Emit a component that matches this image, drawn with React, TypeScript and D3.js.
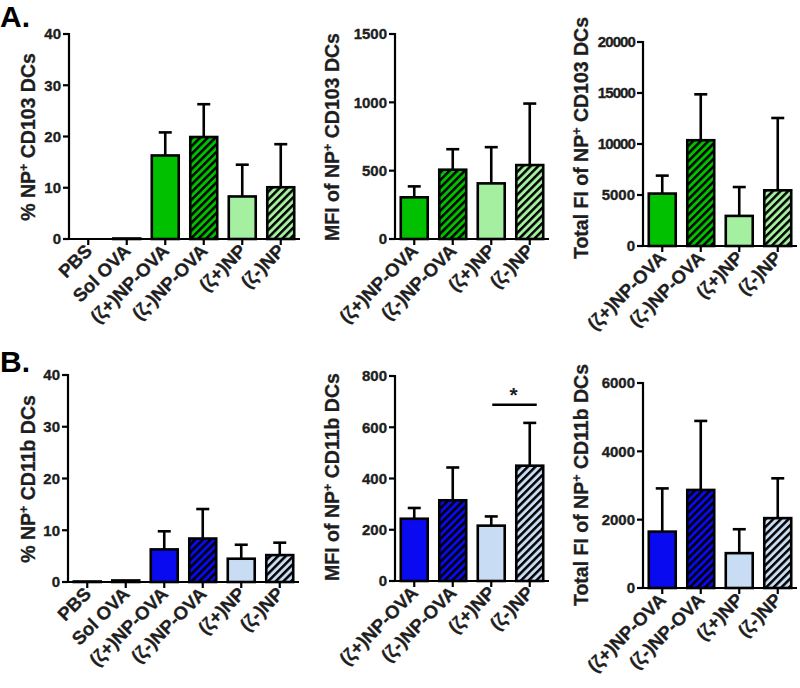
import React from "react";
import * as d3 from "d3";

const catsAll = ["PBS", "Sol OVA", "(ζ+)NP-OVA", "(ζ-)NP-OVA", "(ζ+)NP", "(ζ-)NP"];
const cats4 = ["(ζ+)NP-OVA", "(ζ-)NP-OVA", "(ζ+)NP", "(ζ-)NP"];

// Panel A (CD103 DCs)
const aPctMean = [0, 0.1, 16.3, 19.9, 8.3, 10.1];
const aPctErr = [0, 0, 4.5, 6.4, 6.2, 8.4];
const aMfiMean = [305, 507, 407, 541];
const aMfiErr = [80, 150, 265, 450];
const aTotMean = [5140, 10370, 2950, 5460];
const aTotErr = [1760, 4500, 2830, 7090];

// Panel B (CD11b DCs)
const bPctMean = [0.1, 0.3, 6.3, 8.4, 4.5, 5.2];
const bPctErr = [0, 0, 3.5, 5.7, 2.7, 2.4];
const bMfiMean = [243, 315, 216, 450];
const bMfiErr = [42, 128, 36, 167];
const bTotMean = [1650, 2870, 1020, 2045];
const bTotErr = [1265, 2020, 700, 1165];

const ticksPct = [0, 10, 20, 30, 40];
const ticksMfiA = [0, 500, 1000, 1500];
const ticksTotA = [0, 5000, 10000, 15000, 20000];
const ticksMfiB = [0, 200, 400, 600, 800];
const ticksTotB = [0, 2000, 4000, 6000];

const green = "#00c000";
const lightGreen = "#a4f0a0";
const blue = "#0a0af0";
const lightBlue = "#c8dcf4";

const FONT = "'Liberation Sans', Arial, sans-serif";
const INK = "#1e1e1e";

type PanelProps = {
  x0: number; x1: number; yTop: number; yBot: number; ymax: number;
  ticks: number[]; cats: string[]; means: number[]; errs: number[];
  fills: string[]; hatched: boolean[];
  titlePre: string; titlePost: string; titleX: number; titleY: number;
  sig?: boolean;
};

function Panel(p: PanelProps) {
  const x = d3.scaleBand<string>().domain(p.cats).range([p.x0, p.x1]).paddingInner(0.3).paddingOuter(0.15);
  const y = d3.scaleLinear().domain([0, p.ymax]).range([p.yBot, p.yTop]);
  const bw = x.bandwidth();
  return (
    <g>
      {p.cats.map((c, i) => {
        const cx = (x(c) as number) + bw / 2;
        const top = y(p.means[i]);
        const errTop = y(p.means[i] + p.errs[i]);
        return (
          <g key={c}>
            {p.errs[i] > 0 && (
              <g stroke="#000" strokeWidth={2.6}>
                <line x1={cx} x2={cx} y1={top} y2={errTop} />
                <line x1={cx - 6.5} x2={cx + 6.5} y1={errTop} y2={errTop} />
              </g>
            )}
            <rect x={x(c)} y={top} width={bw} height={Math.max(0, p.yBot - top)}
              fill={p.hatched[i] ? `url(#hatch-${p.fills[i].slice(1)})` : p.fills[i]}
              stroke="#000" strokeWidth={2.6} />
          </g>
        );
      })}
      <line x1={p.x0} x2={p.x0} y1={p.yTop - 1} y2={p.yBot} stroke="#000" strokeWidth={2.2} />
      {p.ticks.map((t) => {
        const s = String(t);
        const ls = s.length >= 5 ? -0.9 : 0;
        return (
          <g key={t}>
            <line x1={p.x0 - 6} x2={p.x0} y1={y(t)} y2={y(t)} stroke="#000" strokeWidth={2.2} />
            <text x={p.x0 - 8} y={y(t)} dy="0.36em" textAnchor="end" fontSize={15} fontWeight="bold"
              fontFamily={FONT} letterSpacing={ls} fill={INK} stroke={INK} strokeWidth={0.35}>{s}</text>
          </g>
        );
      })}
      <line x1={p.x0 - 1} x2={p.x1} y1={p.yBot} y2={p.yBot} stroke="#000" strokeWidth={2.2} />
      {p.cats.map((c) => {
        const cx = (x(c) as number) + bw / 2;
        return (
          <g key={c}>
            <line x1={cx} x2={cx} y1={p.yBot} y2={p.yBot + 6} stroke="#000" strokeWidth={2.2} />
            <text transform={`translate(${cx + 5},${p.yBot + 13}) rotate(-45)`} textAnchor="end"
              fontSize={18.5} fontWeight="bold" fontFamily={FONT} fill={INK} stroke={INK} strokeWidth={0.3}>{c}</text>
          </g>
        );
      })}
      <text transform={`translate(${p.titleX},${p.titleY}) rotate(-90)`} textAnchor="middle"
        fontSize={19.5} fontWeight="bold" fontFamily={FONT} fill={INK} stroke={INK} strokeWidth={0.3}>
        {p.titlePre}
        <tspan fontSize={12.5} dy={-7.5}>+</tspan>
        <tspan dy={7.5}>{p.titlePost}</tspan>
      </text>
      {p.sig && (() => {
        const c3 = (x(p.cats[2]) as number) + bw / 2;
        const c4 = (x(p.cats[3]) as number) + bw / 2;
        const ly = y(688);
        return (
          <g>
            <line x1={c3 + 1} x2={c4 + 7} y1={ly} y2={ly} stroke="#000" strokeWidth={2.4} />
            <text x={(c3 + c4) / 2 + 3} y={ly - 3} textAnchor="middle" fontSize={21} fontWeight="bold"
              fontFamily={FONT} fill={INK}>*</text>
          </g>
        );
      })()}
    </g>
  );
}

export default function App() {
  const hatchColors = [green, lightGreen, blue, lightBlue];
  const gFills = [green, green, green, green, lightGreen, lightGreen];
  const gHatch = [false, false, false, true, false, true];
  const bFills = [blue, blue, blue, blue, lightBlue, lightBlue];
  const gFills4 = [green, green, lightGreen, lightGreen];
  const bFills4 = [blue, blue, lightBlue, lightBlue];
  const hatch4 = [false, true, false, true];
  const P = 5.4;
  return (
    <svg width={800} height={688} style={{ position: "absolute", left: 0, top: 0, background: "#fff" }}>
      <defs>
        {hatchColors.map((c) => (
          <pattern key={c} id={`hatch-${c.slice(1)}`} patternUnits="userSpaceOnUse" width={P} height={P}
            patternTransform="rotate(45)">
            <rect width={P} height={P} fill={c} />
            <rect x={0} y={0} width={2.5} height={P} fill="#000" />
          </pattern>
        ))}
      </defs>
      <rect width={800} height={688} fill="#fff" />
      <text x={0} y={27} fontSize={30} fontWeight="bold" fontFamily={FONT}>A.</text>
      <text x={0} y={372} fontSize={30} fontWeight="bold" fontFamily={FONT}>B.</text>

      <Panel x0={69} x1={300} yTop={34} yBot={239} ymax={40} ticks={ticksPct} cats={catsAll}
        means={aPctMean} errs={aPctErr} fills={gFills} hatched={gHatch}
        titlePre="% NP" titlePost=" CD103 DCs" titleX={35} titleY={137} />
      <Panel x0={395} x1={549} yTop={34} yBot={239} ymax={1500} ticks={ticksMfiA} cats={cats4}
        means={aMfiMean} errs={aMfiErr} fills={gFills4} hatched={hatch4}
        titlePre="MFI of NP" titlePost=" CD103 DCs" titleX={339} titleY={137} />
      <Panel x0={643} x1={797} yTop={42} yBot={246} ymax={20000} ticks={ticksTotA} cats={cats4}
        means={aTotMean} errs={aTotErr} fills={gFills4} hatched={hatch4}
        titlePre="Total FI of NP" titlePost=" CD103 DCs" titleX={588} titleY={138} />

      <Panel x0={68} x1={299} yTop={375} yBot={582} ymax={40} ticks={ticksPct} cats={catsAll}
        means={bPctMean} errs={bPctErr} fills={bFills} hatched={gHatch}
        titlePre="% NP" titlePost=" CD11b DCs" titleX={35} titleY={479} />
      <Panel x0={395} x1={549} yTop={376} yBot={581} ymax={800} ticks={ticksMfiB} cats={cats4}
        means={bMfiMean} errs={bMfiErr} fills={bFills4} hatched={hatch4}
        titlePre="MFI of NP" titlePost=" CD11b DCs" titleX={339} titleY={477} sig />
      <Panel x0={643} x1={797} yTop={383} yBot={588} ymax={6000} ticks={ticksTotB} cats={cats4}
        means={bTotMean} errs={bTotErr} fills={bFills4} hatched={hatch4}
        titlePre="Total FI of NP" titlePost=" CD11b DCs" titleX={588} titleY={485} />
    </svg>
  );
}
